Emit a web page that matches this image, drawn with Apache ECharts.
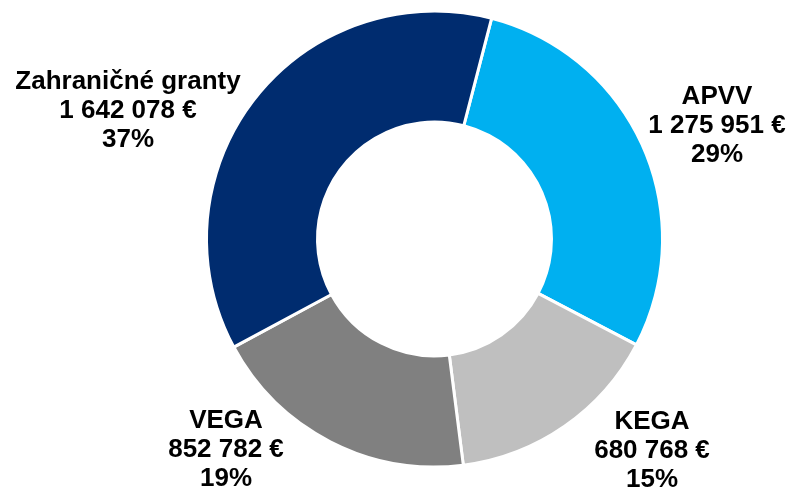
<!DOCTYPE html>
<html>
<head>
<meta charset="utf-8">
<script src="https://cdn.jsdelivr.net/npm/echarts@6/dist/echarts.min.js"></script>
<style>
  html, body { margin: 0; padding: 0; background: #fff; }
  #chart { width: 792px; height: 496px; }
</style>
</head>
<body>
<div id="chart"></div>
<script>
const categories = ['APVV', 'KEGA', 'VEGA', 'Zahraničné granty']
const amounts = [1275951, 680768, 852782, 1642078]
const colors = ['#00B0F0', '#BFBFBF', '#808080', '#002C6F']

// label block centres, in px
const labelPos = [[717, 126], [652, 451], [226, 450], [128, 111]]

function money(v) {
  return String(v).replace(/\B(?=(\d{3})+(?!\d))/g, ' ') + ' €'
}

const chart = echarts.init(document.getElementById('chart'))
chart.setOption({
  animation: false,
  series: [{
    type: 'pie',
    center: [434.5, 239],
    radius: [117, 228],
    startAngle: 75.5,
    clockwise: true,
    itemStyle: { borderColor: '#fff', borderWidth: 3 },
    label: {
      show: true,
      position: 'outside',
      color: '#000',
      fontFamily: 'Liberation Sans, Arial, sans-serif',
      fontWeight: 'bold',
      fontSize: 26,
      lineHeight: 29,
      align: 'center',
      overflow: 'none',
      width: 300,
      formatter: p => p.name + '\n' + money(p.value) + '\n' + Math.round(p.percent) + '%'
    },
    labelLine: { show: false },
    labelLayout: p => ({
      x: labelPos[p.dataIndex][0],
      y: labelPos[p.dataIndex][1],
      align: 'center',
      verticalAlign: 'middle'
    }),
    emphasis: { disabled: true },
    data: categories.map((c, i) => ({
      name: c,
      value: amounts[i],
      itemStyle: { color: colors[i] }
    }))
  }]
})
</script>
</body>
</html>
